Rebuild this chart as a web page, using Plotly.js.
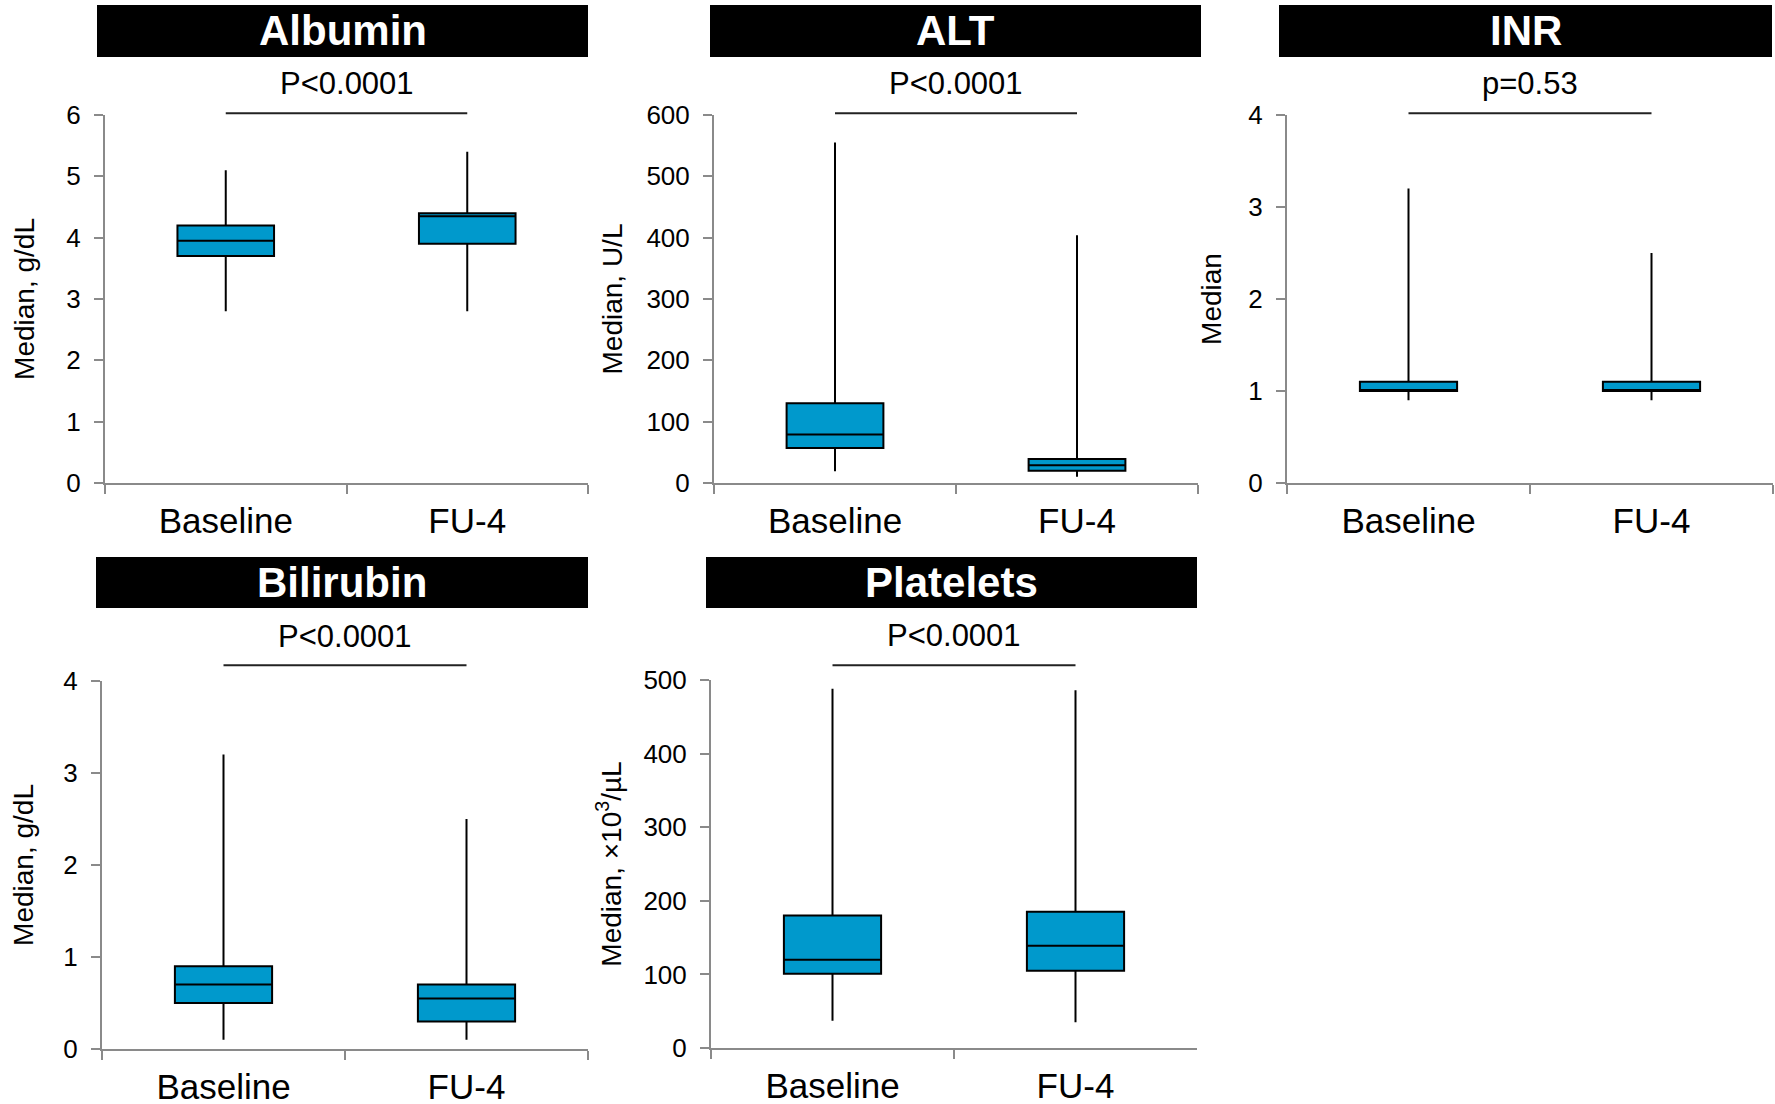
<!DOCTYPE html>
<html>
<head>
<meta charset="utf-8">
<script src="https://cdn.plot.ly/plotly-3.0.1.min.js"></script>
<style>html,body{margin:0;padding:0;background:#fff;}#chart{width:1775px;height:1104px;}</style>
</head>
<body>
<div id="chart"></div>
<script>
// ---- Data ----
const categories = ['Baseline', 'FU-4'];
const panelTitles = ['Albumin', 'ALT', 'INR', 'Bilirubin', 'Platelets'];
const pLabels = ['P<0.0001', 'P<0.0001', 'p=0.53', 'P<0.0001', 'P<0.0001'];
const yTitles = ['Median, g/dL', 'Median, U/L', 'Median', 'Median, g/dL', 'Median, ×10<sup>3</sup>/µL'];
const yMax = [6, 600, 4, 4, 500];
const yStep = [1, 100, 1, 1, 100];

const albuminLow = [2.8, 2.8], albuminQ1 = [3.7, 3.9], albuminMed = [3.95, 4.35], albuminQ3 = [4.2, 4.4], albuminHigh = [5.1, 5.4];
const altLow = [19, 10], altQ1 = [57, 20], altMed = [79, 29], altQ3 = [130, 39], altHigh = [555, 404];
const inrLow = [0.9, 0.9], inrQ1 = [1.0, 1.0], inrMed = [1.0, 1.0], inrQ3 = [1.1, 1.1], inrHigh = [3.2, 2.5];
const biliLow = [0.1, 0.1], biliQ1 = [0.5, 0.3], biliMed = [0.7, 0.55], biliQ3 = [0.9, 0.7], biliHigh = [3.2, 2.5];
const pltLow = [37, 35], pltQ1 = [101, 105], pltMed = [120, 139], pltQ3 = [180, 185], pltHigh = [488, 486];

const stats = [
  [albuminLow, albuminQ1, albuminMed, albuminQ3, albuminHigh],
  [altLow, altQ1, altMed, altQ3, altHigh],
  [inrLow, inrQ1, inrMed, inrQ3, inrHigh],
  [biliLow, biliQ1, biliMed, biliQ3, biliHigh],
  [pltLow, pltQ1, pltMed, pltQ3, pltHigh]
];

// ---- Layout geometry (pixels) ----
const W = 1775, H = 1104;
const plotBoxes = [ // [x0, x1, yTop, yBottom]
  [105, 588, 115, 483],
  [714, 1198, 115, 483],
  [1287, 1773, 115, 483],
  [102, 588, 681, 1049],
  [711, 1197, 680, 1048]
];
const titleBars = [ // [x0, x1, yTop, yBottom]
  [97, 588, 5, 57],
  [710, 1201, 5, 57],
  [1279, 1772, 5, 57],
  [96, 588, 557, 608],
  [706, 1197, 557, 608]
];
const yTitleStandoff = [24, 16, 19, 22, 14];
const bracketY = [1.005, 1.005, 1.005, 1.043, 1.04];
const pTextY = [1.085, 1.085, 1.085, 1.12, 1.12];

const FONT = 'Liberation Sans, Arial, sans-serif';
const AXIS_GRAY = '#8a8a8a';
const BOX_FILL = '#0099CC';

const traces = [];
const layout = {
  width: W, height: H,
  margin: {l: 0, r: 0, t: 0, b: 0},
  paper_bgcolor: '#fff', plot_bgcolor: '#fff',
  showlegend: false,
  font: {family: FONT, color: '#000'},
  shapes: [], annotations: []
};

for (let i = 0; i < 5; i++) {
  const sfx = i === 0 ? '' : String(i + 1);
  const [lo, q1, med, q3, hi] = stats[i];
  traces.push({
    type: 'box',
    x: categories,
    lowerfence: lo, q1: q1, median: med, q3: q3, upperfence: hi,
    xaxis: 'x' + sfx, yaxis: 'y' + sfx,
    width: 0.4,
    fillcolor: BOX_FILL,
    line: {color: '#000', width: 2},
    whiskerwidth: 0,
    boxpoints: false,
    hoverinfo: 'skip'
  });
  const pb = plotBoxes[i];
  layout['xaxis' + sfx] = {
    domain: [pb[0] / W, pb[1] / W],
    anchor: 'y' + sfx,
    type: 'category',
    range: [-0.5, 1.5],
    tickson: 'boundaries',
    ticks: 'outside', ticklen: 9, tickwidth: 2, tickcolor: AXIS_GRAY,
    showline: true, linecolor: AXIS_GRAY, linewidth: 2,
    showgrid: false, zeroline: false,
    tickfont: {family: FONT, size: 35, color: '#000'},
    ticklabelstandoff: 6,
    fixedrange: true
  };
  layout['yaxis' + sfx] = {
    domain: [1 - pb[3] / H, 1 - pb[2] / H],
    anchor: 'x' + sfx,
    range: [0, yMax[i]],
    dtick: yStep[i], tick0: 0,
    ticks: 'outside', ticklen: 9, tickwidth: 2, tickcolor: AXIS_GRAY,
    showline: true, linecolor: AXIS_GRAY, linewidth: 2,
    showgrid: false, zeroline: false,
    tickfont: {family: FONT, size: 26, color: '#000'},
    ticklabelstandoff: 8,
    title: {text: yTitles[i], font: {family: FONT, size: 28, color: '#000'}, standoff: yTitleStandoff[i]},
    fixedrange: true
  };
  // black title bar
  const tb = titleBars[i];
  layout.shapes.push({
    type: 'rect', xref: 'paper', yref: 'paper',
    x0: tb[0] / W, x1: tb[1] / W, y0: 1 - tb[3] / H, y1: 1 - tb[2] / H,
    fillcolor: '#000', line: {width: 0}, layer: 'above'
  });
  layout.annotations.push({
    xref: 'paper', yref: 'paper',
    x: (tb[0] + tb[1]) / 2 / W, y: 1 - (tb[2] + tb[3]) / 2 / H,
    xanchor: 'center', yanchor: 'middle',
    text: '<b>' + panelTitles[i] + '</b>', showarrow: false,
    font: {family: FONT, size: 42, color: '#fff'}
  });
  // significance bracket
  layout.shapes.push({
    type: 'line', xref: 'x' + sfx, yref: 'y' + sfx + ' domain',
    x0: 0, x1: 1, y0: bracketY[i], y1: bracketY[i],
    line: {color: '#222', width: 2}
  });
  layout.annotations.push({
    xref: 'x' + sfx, yref: 'y' + sfx + ' domain',
    x: 0.5, y: pTextY[i], xanchor: 'center', yanchor: 'middle',
    text: pLabels[i], showarrow: false,
    font: {family: FONT, size: 31, color: '#000'}
  });
}

Plotly.newPlot('chart', traces, layout, {staticPlot: true, displayModeBar: false});
</script>
</body>
</html>
